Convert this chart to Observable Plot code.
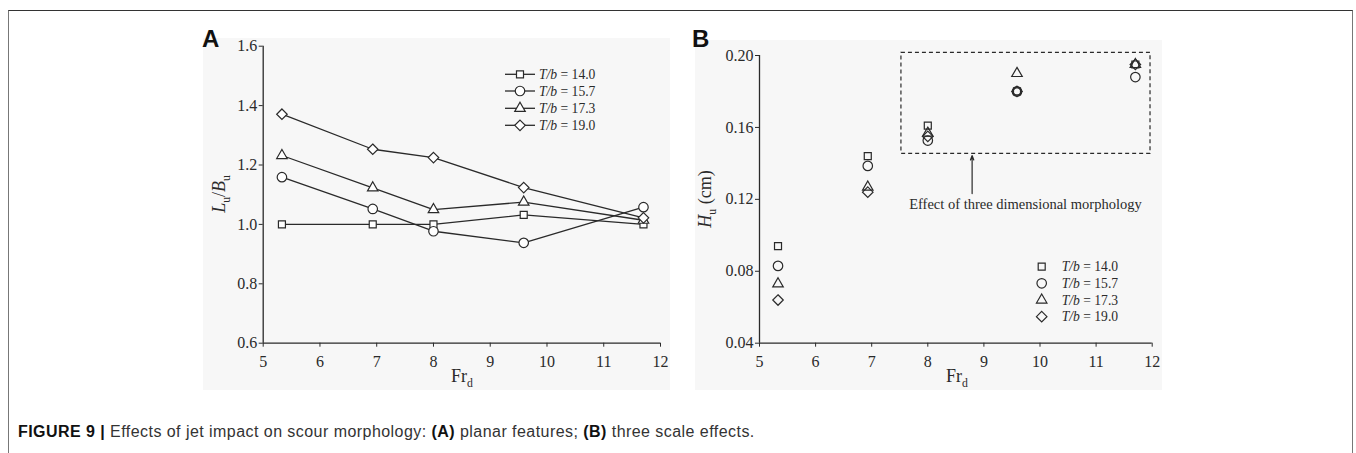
<!DOCTYPE html>
<html><head><meta charset="utf-8">
<script src="https://cdn.jsdelivr.net/npm/d3@7"></script>
<script src="https://cdn.jsdelivr.net/npm/@observablehq/plot@0.6"></script>
<style>
body{margin:0;background:#fff;width:1356px;height:453px;overflow:hidden;position:relative;}
#frame{position:absolute;left:8px;top:10px;width:1343px;height:460px;border-top:1px solid #333;border-left:1.5px solid #777;border-right:1.5px solid #777;}
.panel{position:absolute;}
.panel svg{overflow:visible;}
.plab{position:absolute;font-family:"Liberation Sans",Arial,sans-serif;font-weight:bold;font-size:24px;color:#111;line-height:1;}
#caption{position:absolute;left:18px;top:423.5px;font-family:"Liberation Sans",Arial,sans-serif;font-size:16px;letter-spacing:0.45px;color:#333;white-space:nowrap;line-height:1;}
#caption b{color:#111;}
</style></head><body>
<div id="frame"></div>
<div id="panelA" class="panel" style="left:203px;top:38px;"></div>
<div id="panelB" class="panel" style="left:695px;top:40px;"></div>
<div class="plab" style="left:202px;top:27px;">A</div>
<div class="plab" style="left:692px;top:27px;">B</div>
<div id="caption"><b>FIGURE 9 |</b> Effects of jet impact on scour morphology: <b>(A)</b> planar features; <b>(B)</b> three scale effects.</div>
<script>
// ---------- data ----------
const frd = [5.33, 6.93, 8.0, 9.59, 11.7];
const seriesTb = ["14.0", "15.7", "17.3", "19.0"];
// Panel A: Lu/Bu
const luBu140 = [1.0, 1.0, 1.0, 1.032, 1.0];
const luBu157 = [1.159, 1.052, 0.977, 0.938, 1.058];
const luBu173 = [1.232, 1.123, 1.050, 1.075, 1.014];
const luBu190 = [1.371, 1.253, 1.225, 1.124, 1.022];
// Panel B: Hu (cm)
const hu140 = [0.094, 0.144, 0.161, 0.180, 0.195];
const hu157 = [0.083, 0.1386, 0.1527, 0.180, 0.188];
const hu173 = [0.073, 0.1268, 0.1568, 0.190, 0.195];
const hu190 = [0.064, 0.124, 0.155, 0.180, 0.195];
// ticks
const xTicks = [5, 6, 7, 8, 9, 10, 11, 12];
const yTicksA = [0.6, 0.8, 1.0, 1.2, 1.4, 1.6];
const yTicksB = [0.04, 0.08, 0.12, 0.16, 0.20];
// annotation (panel B)
const boxFr = [7.53, 11.97];
const boxHu = [0.1453, 0.2015];
const arrowFr = [8.79];
const arrowHu = [0.1232, 0.1444];
const noteFr = [9.74];
const noteHu = [0.1171];
const noteText = ["Effect of three dimensional morphology"];

// ---------- styling ----------
const INK = "#2a2a2a";
const symStyle = [
  {sym: "square", r: 3.95},
  {sym: "circle", r: 4.75},
  {sym: "triangle", r: 3.9},
  {sym: "diamond2", r: 4.73}
];
const d3Sym = {square: d3.symbolSquare, circle: d3.symbolCircle, triangle: d3.symbolTriangle, diamond2: d3.symbolDiamond2};
const serif = "Liberation Serif, Times New Roman, serif";

function rowsOf(series) {
  return series.flatMap((vals, i) => vals.map((v, j) => ({fr: frd[j], v, s: seriesTb[i]})));
}
const rowsA = rowsOf([luBu140, luBu157, luBu173, luBu190]);
const rowsB = rowsOf([hu140, hu157, hu173, hu190]);

function axes(yTicks, yFmt, xDom, yDom) {
  return [
    Plot.ruleX([xDom[0]], {stroke: INK, strokeWidth: 1.3}),
    Plot.ruleY([yDom[0]], {stroke: INK, strokeWidth: 1.3}),
    Plot.axisX(xTicks, {tickSize: 4, tickPadding: 8, label: null, stroke: INK, fill: INK, fontSize: 16, fontFamily: serif}),
    Plot.axisY(yTicks, {tickSize: 4, tickPadding: 2, label: null, tickFormat: yFmt, stroke: INK, fill: INK, fontSize: 16, fontFamily: serif})
  ];
}

function dotsFor(rows, fill) {
  return seriesTb.map((tb, i) => Plot.dot(rows.filter(d => d.s === tb), {
    x: "fr", y: "v", symbol: symStyle[i].sym, r: symStyle[i].r,
    fill, stroke: INK, strokeWidth: 1.2
  }));
}

function addLegend(svg, opt) {
  const g = d3.select(svg).append("g").attr("text-anchor", "start");
  seriesTb.forEach((tb, i) => {
    const y = opt.ys[i];
    if (opt.line) g.append("line").attr("x1", opt.line[0]).attr("x2", opt.line[1]).attr("y1", y).attr("y2", y)
      .attr("stroke", INK).attr("stroke-width", 1.3);
    g.append("path").attr("transform", `translate(${opt.mx},${y})`)
      .attr("d", d3.symbol().type(d3Sym[symStyle[i].sym]).size(symStyle[i].r * symStyle[i].r * Math.PI)())
      .attr("fill", opt.fill).attr("stroke", INK).attr("stroke-width", 1.2);
    const t = g.append("text").attr("x", opt.tx).attr("y", y).attr("dy", "0.35em")
      .attr("text-anchor", "start")
      .attr("font-family", serif).attr("font-size", opt.fs).attr("fill", INK);
    t.append("tspan").attr("font-style", "italic").text("T/b");
    t.append("tspan").text(" = " + tb);
  });
}

function addLabel(svg, x, y, parts, rotate, fs) {
  const t = d3.select(svg).append("text")
    .attr("transform", `translate(${x},${y})` + (rotate ? " rotate(-90)" : ""))
    .attr("text-anchor", "middle").attr("font-family", serif).attr("font-size", fs).attr("fill", INK);
  parts.forEach(p => {
    const s = t.append("tspan").text(p.t);
    if (p.i) s.attr("font-style", "italic");
    if (p.sub) s.attr("font-size", fs * 0.65).attr("dy", fs * 0.3);
    if (p.up) s.attr("dy", -fs * 0.3);
  });
}

// ---------- Panel A ----------
const xDomA = [5, 12], yDomA = [0.6, 1.6];
const plotA = Plot.plot({
  width: 467, height: 352,
  marginLeft: 59.7, marginRight: 10, marginTop: 7.7, marginBottom: 47.3,
  x: {domain: xDomA}, y: {domain: yDomA},
  style: {background: "#f7f7f7", fontFamily: serif, fontSize: "16px", color: INK, overflow: "visible"},
  marks: [
    ...axes(yTicksA, d3.format(".1f"), xDomA, yDomA),
    ...seriesTb.map(tb => Plot.line(rowsA.filter(d => d.s === tb), {x: "fr", y: "v", stroke: INK, strokeWidth: 1.3})),
    ...dotsFor(rowsA, "white")
  ]
});
document.getElementById("panelA").append(plotA);
addLegend(plotA, {ys: [36.3, 53, 70.3, 87.3], line: [302, 332], mx: 317, tx: 336, fill: "white", fs: 13.6});
addLabel(plotA, 22, 156, [{t: "L", i: true}, {t: "u", sub: true}, {t: "/", up: true}, {t: "B", i: true}, {t: "u", sub: true}], true, 18);
addLabel(plotA, 259, 344, [{t: "Fr"}, {t: "d", sub: true}], false, 18);

// ---------- Panel B ----------
const xDomB = [5, 12], yDomB = [0.04, 0.20];
const plotB = Plot.plot({
  width: 467, height: 350,
  marginLeft: 64, marginRight: 10.3, marginTop: 15, marginBottom: 47.3,
  x: {domain: xDomB}, y: {domain: yDomB},
  style: {background: "#f7f7f7", fontFamily: serif, fontSize: "16px", color: INK, overflow: "visible"},
  marks: [
    ...axes(yTicksB, d3.format(".2f"), xDomB, yDomB),
    Plot.rect([{x1: boxFr[0], x2: boxFr[1], y1: boxHu[0], y2: boxHu[1]}], {x1: "x1", x2: "x2", y1: "y1", y2: "y2", fill: "none", stroke: INK, strokeWidth: 1.2, strokeDasharray: "4,3"}),
    Plot.arrow([{x: arrowFr[0], y1: arrowHu[0], y2: arrowHu[1]}], {x1: "x", x2: "x", y1: "y1", y2: "y2", stroke: INK, strokeWidth: 1.2, headLength: 6, headAngle: 40}),
    Plot.text([{x: noteFr[0], y: noteHu[0], t: noteText[0]}], {x: "x", y: "y", text: "t", fontSize: 14.5, fontFamily: serif, fill: INK}),
    ...dotsFor(rowsB, "none")
  ]
});
document.getElementById("panelB").append(plotB);
addLegend(plotB, {ys: [226.7, 243.3, 260, 276.7], mx: 346.7, tx: 366.7, fill: "none", fs: 13.6});
addLabel(plotB, 16, 159, [{t: "H", i: true}, {t: "u", sub: true}, {t: " (cm)", up: true}], true, 18);
addLabel(plotB, 262, 342, [{t: "Fr"}, {t: "d", sub: true}], false, 18);
</script>
</body></html>
